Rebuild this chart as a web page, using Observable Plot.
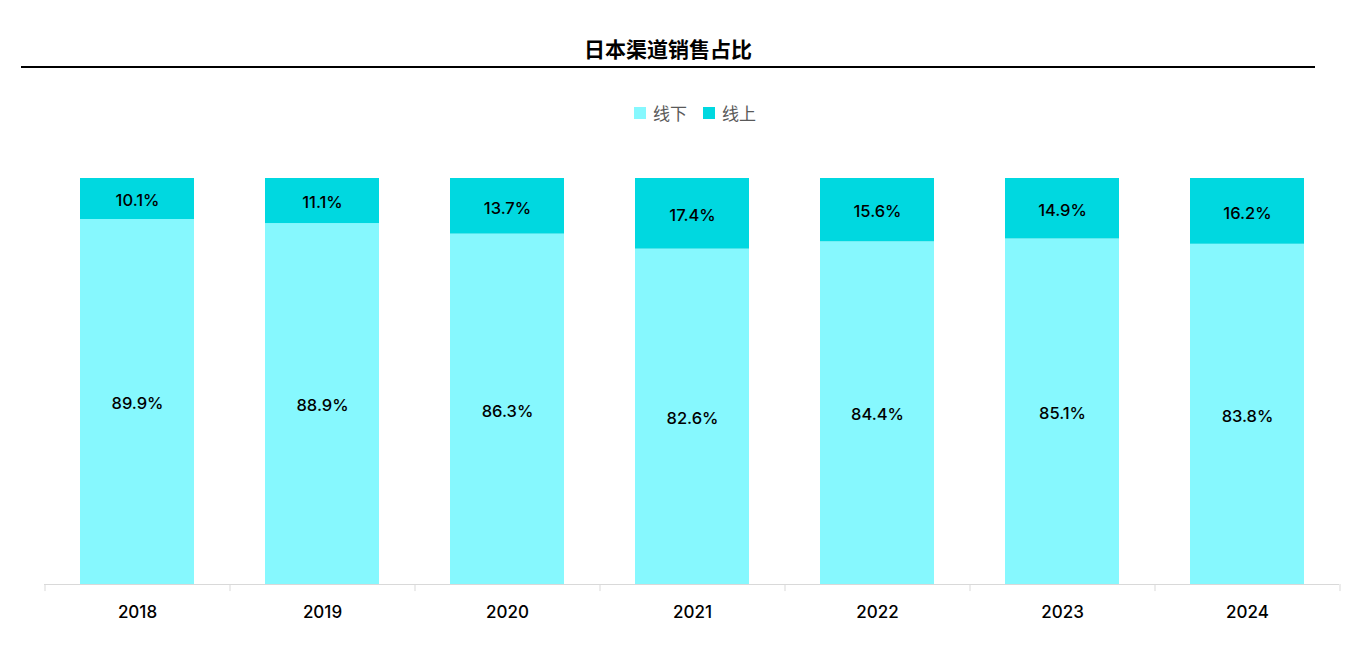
<!DOCTYPE html>
<html>
<head>
<meta charset="utf-8">
<script src="https://cdn.jsdelivr.net/npm/d3@7"></script>
<script src="https://cdn.jsdelivr.net/npm/@observablehq/plot@0.6"></script>
<style>
  html, body { margin: 0; padding: 0; background: #fff; }
  body { width: 1371px; height: 646px; position: relative; overflow: hidden; font-family: "Noto Sans CJK SC", "Noto Sans", sans-serif; }
  #title { position: absolute; left: 21px; top: 30px; width: 1294px; height: 36px; border-bottom: 2px solid #000; text-align: center; font-size: 21px; font-weight: bold; line-height: 36px; color: #000; }
  #legend { position: absolute; left: 0; top: 99px; width: 1390px; text-align: center; font-size: 17px; color: #595959; line-height: 26px; }
  #legend .item { display: inline-flex; align-items: center; margin: 0 8px; }
  #legend .sw { width: 12px; height: 12px; display: inline-block; margin-right: 7px; }
  #chart { position: absolute; left: 0; top: 140px; }
</style>
</head>
<body>
<div id="title">日本渠道销售占比</div>
<div id="legend"></div>
<div id="chart"></div>
<script>
const years = ["2018", "2019", "2020", "2021", "2022", "2023", "2024"];
const seriesNames = ["线下", "线上"];
const offline = [89.9, 88.9, 86.3, 82.6, 84.4, 85.1, 83.8];
const online = [10.1, 11.1, 13.7, 17.4, 15.6, 14.9, 16.2];
const colors = ["#86F8FE", "#00D8E0"];

const legend = document.getElementById("legend");
seriesNames.forEach((s, i) => {
  const it = document.createElement("span");
  it.className = "item";
  it.innerHTML = `<span class="sw" style="background:${colors[i]}"></span>${s}`;
  legend.appendChild(it);
});

const data = [];
years.forEach((y, i) => data.push({year: y, series: seriesNames[0], value: offline[i]}));
years.forEach((y, i) => data.push({year: y, series: seriesNames[1], value: online[i]}));

const W = 1371, H = 506;
const step = (W - 44 - 32) / years.length;

const chart = Plot.plot({
  width: W,
  height: H,
  marginTop: 38,
  marginBottom: 62,
  marginLeft: 44,
  marginRight: 32,
  style: {fontFamily: "Inter, 'Noto Sans', sans-serif", background: "#fff"},
  x: {domain: years, paddingInner: 0.384, paddingOuter: 0.192, label: null},
  y: {domain: [0, 100], axis: null},
  color: {domain: seriesNames, range: colors},
  marks: [
    Plot.barY(data, Plot.stackY({x: "year", y: "value", fill: "series", order: seriesNames})),
    Plot.text(data, Plot.stackY({x: "year", y: "value", z: "series", order: seriesNames, text: d => d.value.toFixed(1) + "%", fill: "#000", fontSize: 16.5, fontWeight: 500, dy: 2})),
    Plot.ruleY([0], {stroke: "#d9d9d9", strokeWidth: 1}),
    Plot.ruleX(years, {x: d => d, y1: 0, y2: -1.75, dx: -step / 2, stroke: "#d9d9d9"}),
    Plot.ruleX([years[years.length - 1]], {x: d => d, y1: 0, y2: -1.75, dx: step / 2, stroke: "#d9d9d9"}),
    Plot.axisX({tickSize: 0, tickPadding: 21, fontSize: 17, fontWeight: 500, fill: "#000", label: null})
  ]
});
document.getElementById("chart").appendChild(chart);
</script>
</body>
</html>
